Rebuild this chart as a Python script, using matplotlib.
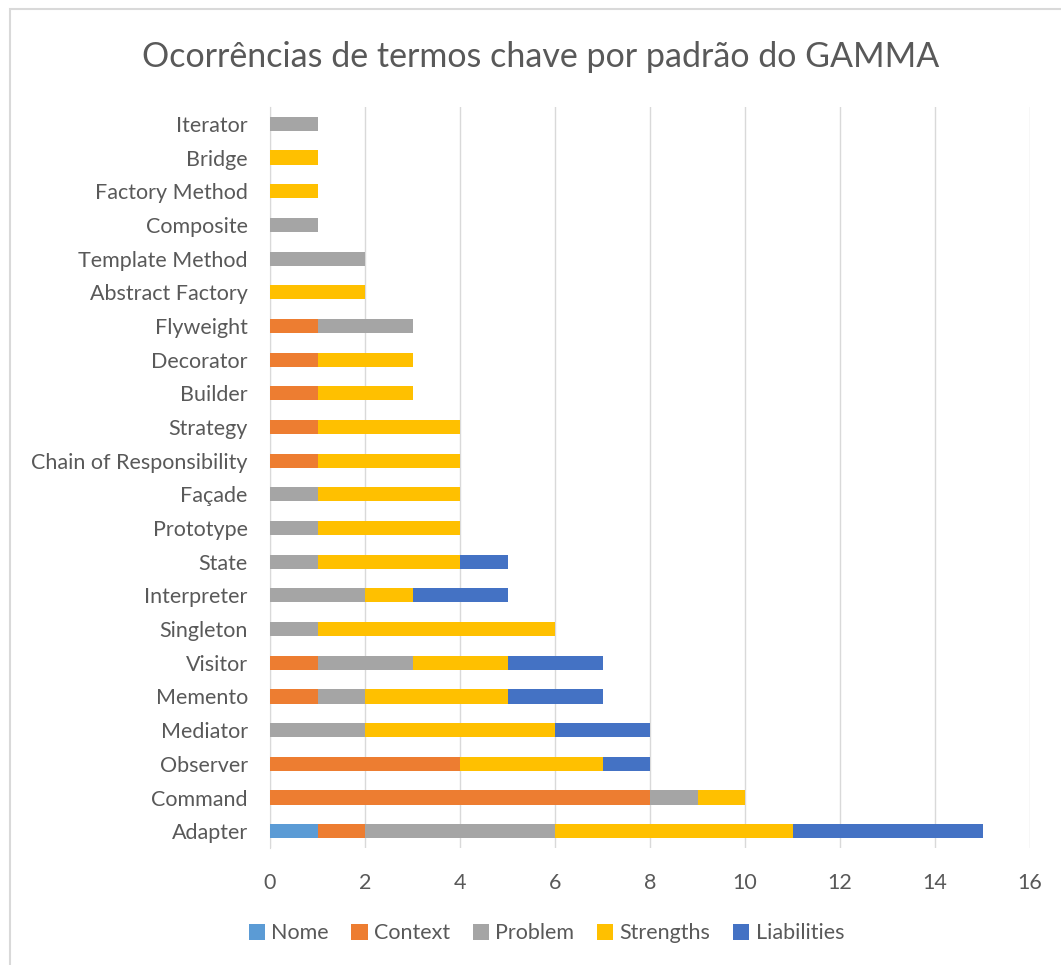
import matplotlib.pyplot as plt
import numpy as np
from matplotlib.patches import Rectangle

plt.rcParams['font.family'] = ['Lato', 'DejaVu Sans']

# Data (bottom to top)
patterns = ["Adapter", "Command", "Observer", "Mediator", "Memento", "Visitor",
            "Singleton", "Interpreter", "State", "Prototype", "Façade",
            "Chain of Responsibility", "Strategy", "Builder", "Decorator",
            "Flyweight", "Abstract Factory", "Template Method", "Composite",
            "Factory Method", "Bridge", "Iterator"]
nome        = [1, 0, 0, 0, 0, 0, 0, 0, 0, 0, 0, 0, 0, 0, 0, 0, 0, 0, 0, 0, 0, 0]
context     = [1, 8, 4, 0, 1, 1, 0, 0, 0, 0, 0, 1, 1, 1, 1, 1, 0, 0, 0, 0, 0, 0]
problem     = [4, 1, 0, 2, 1, 2, 1, 2, 1, 1, 1, 0, 0, 0, 0, 2, 0, 2, 1, 0, 0, 1]
strengths   = [5, 1, 3, 4, 3, 2, 5, 1, 3, 3, 3, 3, 3, 2, 2, 0, 2, 0, 0, 1, 1, 0]
liabilities = [4, 0, 1, 2, 2, 2, 0, 2, 1, 0, 0, 0, 0, 0, 0, 0, 0, 0, 0, 0, 0, 0]

series = ["Nome", "Context", "Problem", "Strengths", "Liabilities"]
colors = ["#5B9BD5", "#ED7D31", "#A5A5A5", "#FFC000", "#4472C4"]
txt = "#595959"

fig = plt.figure(figsize=(10.61, 9.65), dpi=100)
ax = fig.add_axes([0.2545, 0.1212, 0.7163, 0.7679])

y = np.arange(len(patterns))
left = np.zeros(len(patterns))
for name, vals, c in zip(series, [nome, context, problem, strengths, liabilities], colors):
    vals = np.array(vals)
    ax.barh(y, vals, left=left, height=0.42, color=c, label=name, zorder=3)
    left += vals

ax.set_xlim(0, 16)
ax.set_ylim(-0.5, len(patterns) - 0.5)
ax.set_xticks(range(0, 17, 2))
ax.set_yticks(y)
ax.set_yticklabels(patterns)
ax.grid(axis='x', color='#D9D9D9', linewidth=1, zorder=0)
for s in ['top', 'right', 'bottom']:
    ax.spines[s].set_visible(False)
ax.spines['left'].set_color('#D9D9D9')
ax.tick_params(length=0, labelsize=15.5, colors=txt)
ax.tick_params(axis='x', pad=18)
ax.tick_params(axis='y', pad=16)

fig.suptitle("Ocorrências de termos chave por padrão do GAMMA", x=0.51, y=0.958,
             fontsize=24.5, color=txt)

fig.legend(loc='center', bbox_to_anchor=(0.515, 0.033), ncol=5, frameon=False,
           fontsize=15.5, labelcolor=txt, handlelength=0.75, handleheight=0.75,
           handletextpad=0.3, columnspacing=1.05)

# light chart border
fig.patches.append(Rectangle((0.0095, -0.1), 1.2, 1.0907, transform=fig.transFigure,
                             fill=False, edgecolor='#D9D9D9', linewidth=1.5))

fig.savefig("out.png", dpi=100)
